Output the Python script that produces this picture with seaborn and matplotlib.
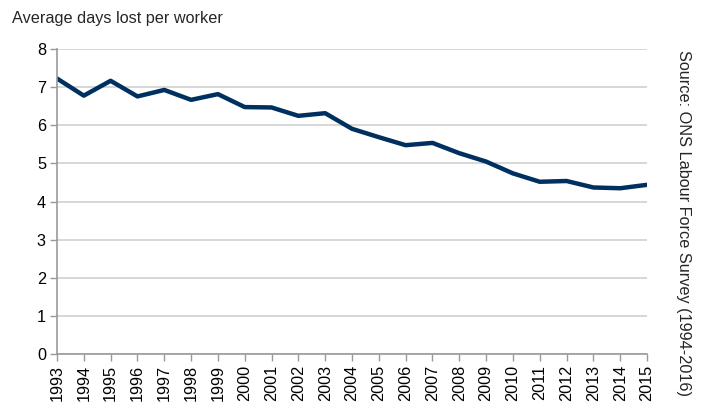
import matplotlib
matplotlib.use("Agg")
import matplotlib.pyplot as plt
import seaborn as sns
import pandas as pd

years = list(range(1993, 2016))
days_lost = [7.23, 6.78, 7.17, 6.76, 6.93, 6.67, 6.82, 6.48, 6.47, 6.25, 6.32,
             5.91, 5.69, 5.48, 5.54, 5.27, 5.05, 4.74, 4.52, 4.54, 4.37, 4.35, 4.44]
y_ticks = [0, 1, 2, 3, 4, 5, 6, 7, 8]
y_label = "Average days lost per worker"
source = "Source: ONS Labour Force Survey (1994-2016)"

df = pd.DataFrame({"year": years, "days": days_lost})

sns.set_theme(style="white")
plt.rcParams['font.family'] = ['Liberation Sans', 'DejaVu Sans']

fig = plt.figure(figsize=(7.01, 4.03), dpi=100)
ax = fig.add_axes([0.0813, 0.1216, 0.8417, 0.7564])

sns.lineplot(data=df, x="year", y="days", ax=ax, color="#00305f", linewidth=3.2)

ax.set_xlim(1993, 2015)
ax.set_ylim(0, 8)
ax.set_yticks(y_ticks)
ax.set_xticks(years)
ax.set_xticklabels([str(y) for y in years], rotation=90, fontsize=11.7)
ax.tick_params(axis="y", labelsize=11.7)
ax.set_xlabel("")
ax.set_ylabel("")
ax.yaxis.grid(True, color="#d4d4d4", linewidth=1.3)
ax.xaxis.grid(False)
ax.set_axisbelow(True)

for s in ["top", "right"]:
    ax.spines[s].set_visible(False)
for s in ["left", "bottom"]:
    ax.spines[s].set_color("#999999")
    ax.spines[s].set_linewidth(1.2)
ax.tick_params(axis="both", which="both", direction="out", length=5, width=1,
               color="#999999", labelcolor="black", bottom=True, left=True, pad=3)

fig.text(12 / 701, 1 - 18 / 403, y_label, fontsize=11.7, va="center", ha="left")
fig.text(683 / 701, 1 - 50 / 403, source, fontsize=11.7, rotation=270,
         va="top", ha="center")

fig.savefig("out.png", dpi=100)
